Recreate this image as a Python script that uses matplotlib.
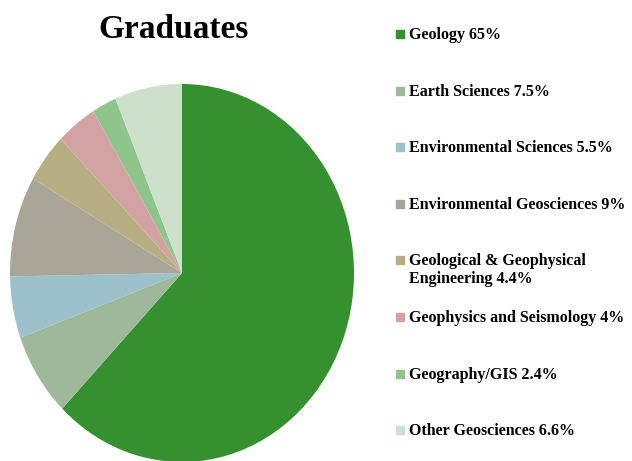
import matplotlib.pyplot as plt
from matplotlib.patches import Rectangle

categories = ["Geology", "Earth Sciences", "Environmental Sciences", "Environmental Geosciences",
              "Geological & Geophysical\nEngineering", "Geophysics and Seismology", "Geography/GIS",
              "Other Geosciences"]
shares = [65, 7.5, 5.5, 9, 4.4, 4, 2.4, 6.6]
colors = ["#35912f", "#9db99a", "#9cc0cc", "#a9a698", "#b6ad82", "#d3a3a4", "#8fc58c", "#cde0cc"]

fig = plt.figure(figsize=(6.32, 4.61), dpi=100)
W, H = 632, 461
ax = fig.add_axes([10/W, -1/H, 344/W, 378/H])
ax.pie(shares, colors=colors, startangle=90, counterclock=False, radius=1.0,
       wedgeprops=dict(linewidth=0))
ax.set_aspect("auto"); ax.set_xlim(-1, 1); ax.set_ylim(-1, 1); ax.axis("off")

fig.text(174/W, 1 - 29/H, "Graduates", ha="center", va="center", fontsize=24,
         fontweight="bold", family="Liberation Serif")

y0, dy = 34, 56.6
for i, (name, v, c) in enumerate(zip(categories, shares, colors)):
    y = y0 + i*dy
    fig.patches.append(Rectangle(((400-4)/W, 1 - (y+4)/H), 8/W, 8/H, color=c, transform=fig.transFigure))
    fig.text(409/W, 1 - (y-7)/H, f"{name} {v:g}%", ha="left", va="top", fontsize=11.5,
             fontweight="bold", family="Liberation Serif", linespacing=1.15)

fig.savefig("out.png", dpi=100)
